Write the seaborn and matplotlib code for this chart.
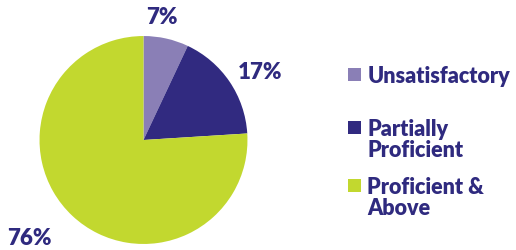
import numpy as np
import seaborn as sns
import matplotlib.pyplot as plt
from matplotlib.patches import Rectangle

# Data
categories = ["Unsatisfactory", "Partially\nProficient", "Proficient &\nAbove"]
shares = [7, 17, 76]
colors = ["#8A7FB6", "#312A80", "#C2D82F"]
text_color = "#2F2A7F"

# label placement tweaks (radius multiplier, angle shift in degrees)
label_radius = [1.19, 1.30, 1.45]
label_shift = [4, -4, -6]

sns.set_theme(style="white")
plt.rcParams['font.family'] = ['Lato', 'DejaVu Sans']

fig = plt.figure(figsize=(5.16, 2.5), dpi=100)
ax = fig.add_axes([0.0766, 0.024, 0.403, 0.832])

wedges, _ = ax.pie(shares, colors=sns.color_palette(colors), startangle=90,
                   counterclock=False, wedgeprops=dict(linewidth=0))
ax.set_aspect('equal')
ax.set_xlim(-1, 1)
ax.set_ylim(-1, 1)

# percentage labels outside the pie
for w, val, r, s in zip(wedges, shares, label_radius, label_shift):
    ang = np.deg2rad((w.theta1 + w.theta2) / 2 + s)
    ax.text(r * np.cos(ang), r * np.sin(ang), f"{val}%", ha='center', va='center',
            fontsize=16, fontweight='heavy', color=text_color, clip_on=False)

# manual legend
legend_y = [0.70, 0.488, 0.256]
for lab, c, y in zip(categories, colors, legend_y):
    fig.add_artist(Rectangle((0.674, y - 0.024), 0.025, 0.052, transform=fig.transFigure,
                             facecolor=c, edgecolor='none'))
    fig.text(0.712, y + 0.036, lab, ha='left', va='top', fontsize=15.5,
             fontweight='heavy', color=text_color, linespacing=1.0)

fig.savefig("out.png", dpi=100)
